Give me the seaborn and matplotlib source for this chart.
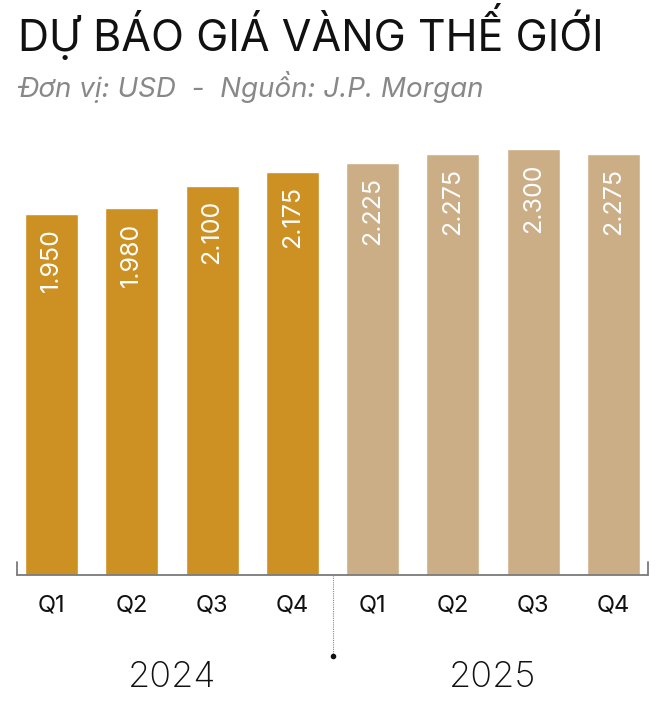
import matplotlib
matplotlib.use("Agg")
import matplotlib.pyplot as plt
import seaborn as sns
import pandas as pd
import numpy as np

quarters = ["Q1", "Q2", "Q3", "Q4", "Q1", "Q2", "Q3", "Q4"]
years = ["2024", "2024", "2024", "2024", "2025", "2025", "2025", "2025"]
values = [1950, 1980, 2100, 2175, 2225, 2275, 2300, 2275]
labels = ["1.950", "1.980", "2.100", "2.175", "2.225", "2.275", "2.300", "2.275"]
year_labels = ["2024", "2025"]
title = "DỰ BÁO GIÁ VÀNG THẾ GIỚI"
subtitle = "Đơn vị: USD  -  Nguồn: J.P. Morgan"

sns.set_theme(style="white")
plt.rcParams["font.family"] = ["Inter", "DejaVu Sans"]

df = pd.DataFrame({"pos": [str(i) for i in range(len(values))],
                   "value": values, "year": years})

W, H = 669, 701
fig = plt.figure(figsize=(W / 100, H / 100), dpi=100)
ax = fig.add_axes([17 / W, 1 - 575 / H, (648 - 17) / W, (575 - 140) / H])

palette = {"2024": "#CD9022", "2025": "#CBAD86"}
sns.barplot(data=df, x="pos", y="value", hue="year", palette=palette,
            width=0.66, dodge=False, legend=False, ax=ax, saturation=1)

ax.set_xlim(-0.43, 7.43)
ax.set_ylim(0, 2350)
ax.set_xlabel("")
ax.set_ylabel("")
ax.set_xticks([])
ax.set_yticks([])
for s in ["top", "right", "left", "bottom"]:
    ax.spines[s].set_visible(False)

# baseline with end ticks
axis_col = "#7a7a7a"
ax.plot([-0.43, 7.43], [0, 0], color=axis_col, lw=1.3, clip_on=False,
        zorder=5)
for xe in (-0.43, 7.43):
    ax.plot([xe, xe], [0, 70], color=axis_col, lw=1.3, clip_on=False,
            zorder=5)

# value labels
for i, (v, lab) in enumerate(zip(values, labels)):
    ax.annotate(lab, xy=(i, v), xytext=(0, -10), textcoords="offset points",
                rotation=90, ha="center", va="top", color="white",
                fontsize=18)

# quarter labels
for i, q in enumerate(quarters):
    ax.annotate(q, xy=(i, 0), xytext=(0, -22), textcoords="offset points",
                ha="center", va="center", fontsize=17, color="#111111")

# separator
ax.plot([3.5, 3.5], [0, -440], color="#888888", lw=0.8, ls=(0, (1, 1)),
        clip_on=False)
ax.plot([3.5], [-440], marker="o", ms=3, color="#111111", clip_on=False)

# year labels
for j, y in enumerate(year_labels):
    ax.annotate(y, xy=(1.5 + 4 * j, 0), xytext=(0, -74),
                textcoords="offset points", ha="center", va="center",
                fontsize=26, fontweight="light", color="#111111")

fig.text(18 / W, 1 - 32 / H, title, fontsize=31, color="#111111",
         ha="left", va="center")
fig.text(18 / W, 1 - 87 / H, subtitle, fontsize=20, color="#888888",
         ha="left", va="center", style="italic")

fig.savefig("out.png", dpi=100)
